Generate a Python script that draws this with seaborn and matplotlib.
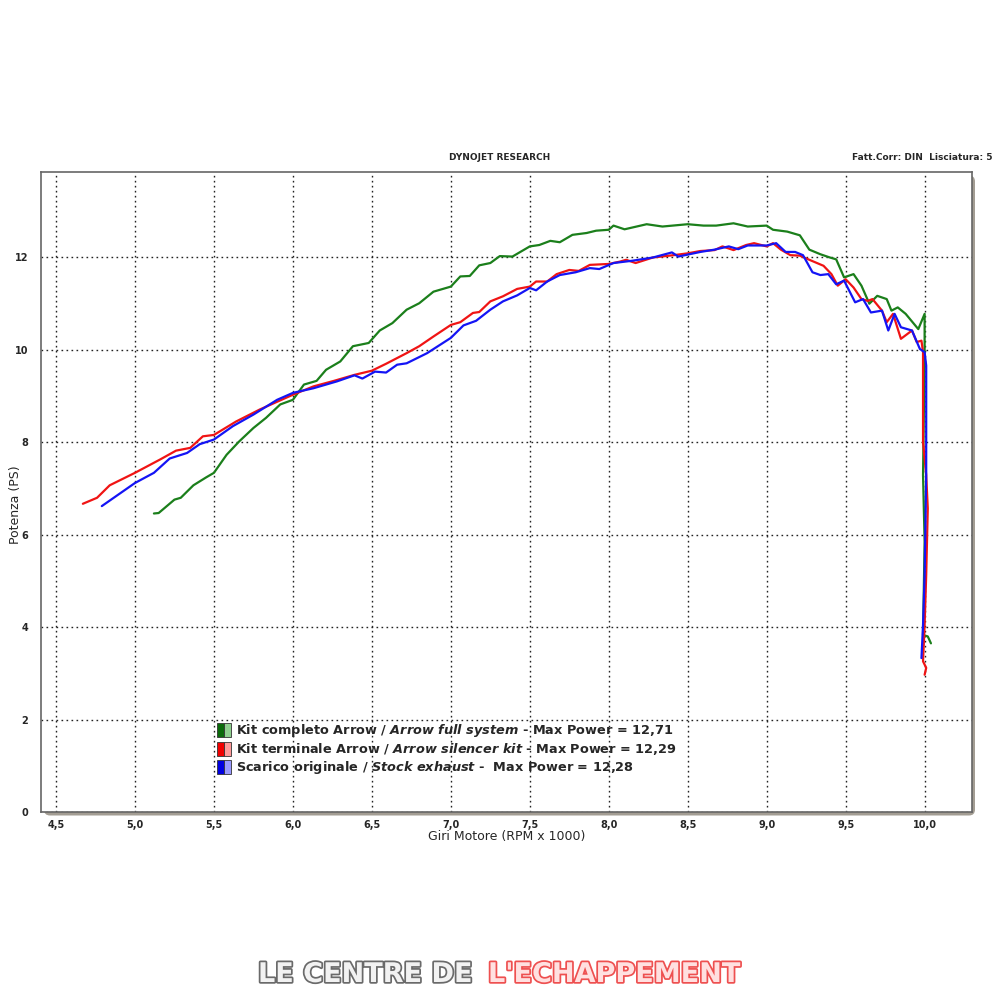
import numpy as np
import pandas as pd
import matplotlib
matplotlib.use("Agg")
import matplotlib.pyplot as plt
import seaborn as sns
from matplotlib.patches import Patch, FancyBboxPatch
from matplotlib.legend_handler import HandlerTuple
from matplotlib.ticker import MultipleLocator, FixedLocator
import matplotlib.patheffects as pe

# ---------------- data ----------------
green_rpm = [5.12, 5.15, 5.25, 5.29, 5.37, 5.45, 5.50, 5.58, 5.66, 5.75, 5.83, 5.92, 6.00,
             6.07, 6.15, 6.21, 6.30, 6.38, 6.48, 6.55, 6.63, 6.72, 6.80, 6.89, 7.00, 7.06,
             7.12, 7.18, 7.25, 7.31, 7.39, 7.50, 7.56, 7.63, 7.69, 7.77, 7.86, 7.92, 8.00,
             8.03, 8.10, 8.24, 8.34, 8.50, 8.60, 8.68, 8.79, 8.88, 9.00, 9.04, 9.13, 9.21,
             9.27, 9.34, 9.40, 9.44, 9.49, 9.55, 9.60, 9.65, 9.70, 9.76, 9.79, 9.83, 9.88,
             9.96, 10.00, 10.00, 9.99, 10.00, 9.99, 10.02, 10.04]
green_ps = [6.46, 6.47, 6.76, 6.80, 7.07, 7.24, 7.34, 7.73, 8.02, 8.31, 8.53, 8.82, 8.92,
            9.25, 9.33, 9.57, 9.75, 10.08, 10.15, 10.42, 10.58, 10.87, 11.01, 11.26, 11.37, 11.59,
            11.60, 11.83, 11.88, 12.03, 12.02, 12.24, 12.27, 12.36, 12.33, 12.49, 12.53, 12.58, 12.60,
            12.69, 12.61, 12.72, 12.67, 12.72, 12.69, 12.69, 12.74, 12.67, 12.69, 12.60, 12.56, 12.48,
            12.17, 12.07, 12.00, 11.96, 11.57, 11.64, 11.39, 11.00, 11.17, 11.10, 10.85, 10.92, 10.78,
            10.45, 10.78, 9.95, 7.29, 5.85, 3.83, 3.80, 3.65]

red_rpm = [4.67, 4.76, 4.84, 5.00, 5.16, 5.26, 5.35, 5.43, 5.50, 5.64, 5.79, 6.00, 6.13,
           6.26, 6.39, 6.50, 6.59, 6.72, 6.80, 6.89, 7.00, 7.06, 7.14, 7.18, 7.25, 7.33,
           7.42, 7.50, 7.54, 7.61, 7.67, 7.75, 7.81, 7.88, 8.00, 8.07, 8.11, 8.17, 8.28,
           8.41, 8.50, 8.58, 8.67, 8.72, 8.79, 8.87, 8.92, 9.00, 9.04, 9.09, 9.15, 9.21,
           9.27, 9.36, 9.41, 9.45, 9.50, 9.55, 9.60, 9.64, 9.67, 9.73, 9.76, 9.80, 9.85,
           9.92, 9.95, 9.98, 9.99, 9.99, 10.01, 10.02, 10.01, 10.00, 9.99, 10.01, 10.00]
red_ps = [6.67, 6.80, 7.07, 7.34, 7.63, 7.82, 7.88, 8.13, 8.16, 8.45, 8.71, 9.03, 9.21,
          9.33, 9.46, 9.55, 9.70, 9.93, 10.08, 10.29, 10.54, 10.60, 10.80, 10.82, 11.05, 11.16,
          11.32, 11.37, 11.48, 11.48, 11.64, 11.73, 11.71, 11.84, 11.86, 11.91, 11.95, 11.88, 12.00,
          12.05, 12.09, 12.14, 12.16, 12.24, 12.16, 12.27, 12.31, 12.24, 12.31, 12.17, 12.05, 12.04,
          11.95, 11.82, 11.64, 11.39, 11.53, 11.35, 11.10, 11.06, 11.10, 10.85, 10.60, 10.78, 10.24,
          10.42, 10.17, 10.20, 9.95, 8.00, 7.29, 6.57, 5.13, 4.05, 3.26, 3.12, 2.97]

blue_rpm = [4.79, 5.00, 5.12, 5.22, 5.33, 5.41, 5.50, 5.62, 5.75, 5.90, 6.00, 6.13, 6.28,
            6.39, 6.44, 6.52, 6.59, 6.66, 6.72, 6.85, 7.00, 7.08, 7.16, 7.25, 7.33, 7.42,
            7.50, 7.54, 7.61, 7.69, 7.79, 7.88, 7.94, 8.03, 8.15, 8.28, 8.40, 8.44, 8.58,
            8.67, 8.76, 8.82, 8.88, 9.00, 9.06, 9.12, 9.18, 9.23, 9.29, 9.34, 9.39, 9.44,
            9.49, 9.56, 9.61, 9.66, 9.73, 9.77, 9.81, 9.85, 9.92, 9.97, 10.00, 10.01, 10.01,
            10.00, 9.99, 9.98]
blue_ps = [6.62, 7.12, 7.34, 7.65, 7.77, 7.96, 8.06, 8.35, 8.60, 8.92, 9.07, 9.17, 9.32,
           9.45, 9.38, 9.53, 9.51, 9.68, 9.71, 9.93, 10.26, 10.53, 10.63, 10.87, 11.05, 11.18,
           11.34, 11.29, 11.48, 11.62, 11.68, 11.77, 11.75, 11.88, 11.93, 12.00, 12.11, 12.02, 12.12,
           12.17, 12.24, 12.18, 12.26, 12.26, 12.31, 12.12, 12.12, 12.05, 11.68, 11.62, 11.64, 11.42,
           11.50, 11.03, 11.10, 10.81, 10.85, 10.42, 10.78, 10.49, 10.42, 10.02, 9.95, 9.66, 7.29,
           5.13, 4.05, 3.33]

series_names = ["green", "red", "blue"]
series_colors = {"green": "#1b7f1b", "red": "#f01414", "blue": "#1414f5"}
legend_dark = ["#0a6a0a", "#f00000", "#0000e0"]
legend_light = ["#8fd08f", "#ff9a9a", "#9a9aff"]
legend_labels = [
    r"Kit completo Arrow / $\it{Arrow\ full\ system}$ - Max Power = 12,71",
    r"Kit terminale Arrow / $\it{Arrow\ silencer\ kit}$ - Max Power = 12,29",
    r"Scarico originale / $\it{Stock\ exhaust}$ -  Max Power = 12,28",
]
x_ticks = [4.5, 5.0, 5.5, 6.0, 6.5, 7.0, 7.5, 8.0, 8.5, 9.0, 9.5, 10.0]
x_ticklabels = ["4,5", "5,0", "5,5", "6,0", "6,5", "7,0", "7,5", "8,0", "8,5", "9,0", "9,5", "10,0"]
y_ticks = [0, 2, 4, 6, 8, 10, 12]

frames = []
for name, xs, ys in [("green", green_rpm, green_ps), ("red", red_rpm, red_ps), ("blue", blue_rpm, blue_ps)]:
    frames.append(pd.DataFrame({"rpm": xs, "ps": ys, "serie": name}))
df = pd.concat(frames, ignore_index=True)

# ---------------- style ----------------
sns.set_style("white")
plt.rcParams["font.family"] = ["DejaVu Sans"]
plt.rcParams["mathtext.fontset"] = "custom"
plt.rcParams["mathtext.it"] = "DejaVu Sans:italic:bold"
plt.rcParams["mathtext.rm"] = "DejaVu Sans:bold"
plt.rcParams["mathtext.bf"] = "DejaVu Sans:bold"

fig = plt.figure(figsize=(10, 10), dpi=100)
fig.patch.set_facecolor("white")

ax = fig.add_axes([0.041, 0.188, 0.931, 0.64])
ax.set_zorder(2)
ax.set_facecolor("white")

# shadow of the rounded frame (behind the axes)
shadow = FancyBboxPatch((0.044, 0.1845), 0.931, 0.64, boxstyle="round,pad=0,rounding_size=0.006",
                        transform=fig.transFigure, facecolor="#a39d93", edgecolor="none", zorder=-5)
fig.add_artist(shadow)

sns.lineplot(data=df, x="rpm", y="ps", hue="serie", units="serie", estimator=None, sort=False,
             palette=series_colors, hue_order=series_names, linewidth=1.6, legend=False, ax=ax)

ax.set_xlim(4.405, 10.30)
ax.set_ylim(0, 13.85)

ax.xaxis.set_major_locator(FixedLocator(x_ticks))
ax.set_xticklabels(x_ticklabels)
ax.xaxis.set_minor_locator(MultipleLocator(0.1))
ax.yaxis.set_major_locator(FixedLocator(y_ticks))
ax.yaxis.set_minor_locator(MultipleLocator(0.5))

ax.grid(True, which="major", color="#222222", linestyle=(0, (1.2, 2.4)), linewidth=1.0)
ax.tick_params(axis="both", which="major", direction="out", length=5, width=0.8, color="#555555",
               labelsize=7)
ax.tick_params(axis="x", which="major", pad=1.0)
ax.tick_params(axis="y", which="major", pad=4)
ax.tick_params(axis="both", which="minor", direction="out", length=3, width=0.8, color="#555555")
for lab in ax.get_xticklabels() + ax.get_yticklabels():
    lab.set_fontweight("bold")

for s in ax.spines.values():
    s.set_color("#666666")
    s.set_linewidth(1.2)

ax.set_xlabel("Giri Motore (RPM x 1000)", fontsize=9, labelpad=0)
ax.set_ylabel("Potenza (PS)", fontsize=9)
ax.yaxis.set_label_coords(-0.020, 0.48)

# legend
handles = [(Patch(facecolor=d, edgecolor="#333333", linewidth=0.6),
            Patch(facecolor=l, edgecolor="#333333", linewidth=0.6))
           for d, l in zip(legend_dark, legend_light)]
leg = ax.legend(handles, legend_labels, handler_map={tuple: HandlerTuple(ndivide=None, pad=0)},
                loc="upper left", bbox_to_anchor=(0.189, 0.140), frameon=False,
                prop={"weight": "bold", "size": 9.3}, handlelength=1.1, handleheight=1.3,
                handletextpad=0.35, labelspacing=0.15, borderpad=0, borderaxespad=0)

# header texts
fig.text(0.500, 0.842, "DYNOJET RESEARCH", ha="center", va="center", fontsize=6.5, fontweight="bold")
fig.text(0.993, 0.842, "Fatt.Corr: DIN  Lisciatura: 5", ha="right", va="center", fontsize=6.5,
         fontweight="bold")

# logo
fig.text(0.258, 0.025, "LE CENTRE DE", ha="left", va="center", fontsize=19.5, fontweight="bold",
         color="#f2f2f2",
         path_effects=[pe.Stroke(linewidth=2.5, foreground="#6a6a6a"), pe.Normal()])
fig.text(0.488, 0.025, "L'ECHAPPEMENT", ha="left", va="center", fontsize=19.5, fontweight="bold",
         color="#ffe0e0",
         path_effects=[pe.Stroke(linewidth=2.5, foreground="#ee5050"), pe.Normal()])

fig.savefig("out.png", dpi=100)
